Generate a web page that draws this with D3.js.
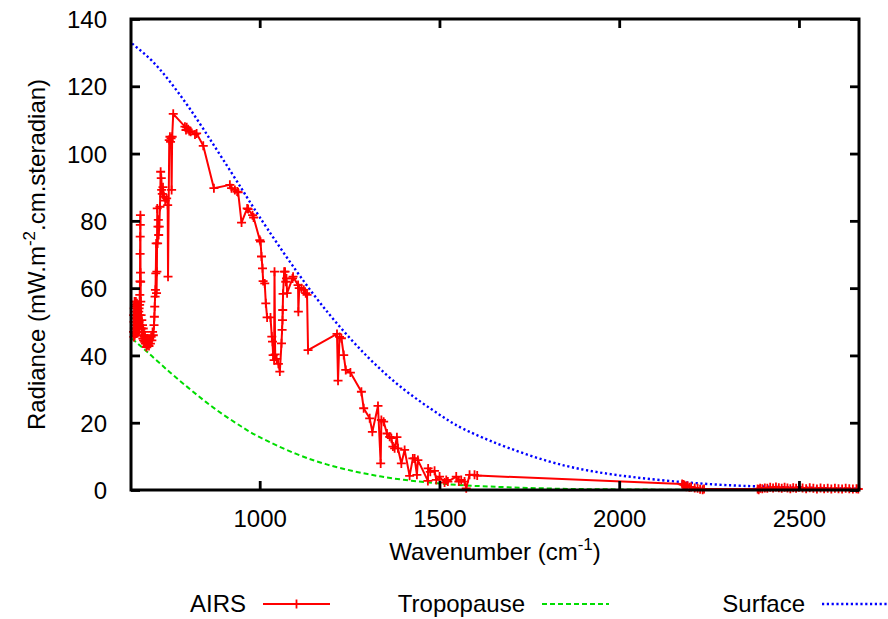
<!DOCTYPE html>
<html>
<head>
<meta charset="utf-8">
<script src="https://cdn.jsdelivr.net/npm/d3@7"></script>
<style>
  body { margin: 0; background: #fff; }
  svg { display: block; font-family: "Liberation Sans", Arial, sans-serif; }
</style>
</head>
<body>
<svg id="chart" width="888" height="619"></svg>
<script>
// AIRS spectrum: [wavenumber, radiance]
const airs = [
  [649, 47], [649.5, 52], [650, 45.5], [650.5, 50], [651, 54], [651.5, 48], [652, 56], [652.5, 46],
  [653, 51], [653.5, 55], [654, 47], [654.5, 53], [655, 49], [655.5, 56], [656, 46.5], [656.5, 52],
  [657, 54.5], [657.5, 48], [658, 51], [658.5, 55.5], [659, 47], [659.5, 50], [660, 53], [660.5, 48.5],
  [661, 52], [661.5, 55], [662, 49], [662.5, 51], [663, 47], [663.5, 53], [664, 50], [664.5, 54],
  [665, 48], [665.5, 52], [666, 55], [666.5, 58], [667, 62], [667.3, 70.2], [667.6, 75.3], [667.9, 78.8],
  [668.2, 81.7], [668.5, 64.6], [668.8, 61.9], [669.2, 56], [670, 52], [671, 48], [672, 50.5], [673, 46],
  [674, 49], [675, 45], [676, 48], [677, 44.5], [678, 47], [679, 45.5], [680, 44], [681, 46],
  [682, 43.5], [683, 45], [684, 44], [685, 42.5], [686, 44.5], [687, 43], [688, 45], [689, 43.5],
  [690, 44], [692, 42.8], [694, 44.5], [696, 43.5], [698, 45.5], [700, 44.5], [702, 47], [704, 46],
  [706, 49], [707, 51.5], [708, 54.5], [709, 57.5], [710, 59.5], [711, 64.4], [712, 73.3], [713, 58.5],
  [714, 64.9], [715, 83.7], [716, 73.3], [717, 78.3], [718, 80.3], [719, 75.8], [720.6, 78.3], [722.6, 84.2],
  [724.5, 94.6], [726.2, 92.7], [727.3, 89.2], [729, 88], [731, 90], [733.7, 87.2], [737, 86], [741.2, 86.7],
  [744, 84.7], [745, 63.4], [748.4, 104], [750.3, 105], [752, 103.5], [753.5, 104.5], [755, 89.2], [756.5, 105],
  [759.5, 111.8], [792, 108], [795, 107], [797, 107.8], [801, 107.2], [804, 106.7], [808, 106.5], [820, 105.7],
  [824.5, 106], [843, 102.3], [872.6, 89.7], [917, 90.7], [921.7, 89.7], [930.9, 89.2], [937.3, 88.7], [940, 88.5],
  [949.5, 79.5], [965.1, 83.7], [967.8, 83.5], [980.1, 81.7], [983, 81], [1000.3, 74.3], [1002.3, 73.8], [1005, 69.4],
  [1007.8, 65.9], [1009.5, 62.1], [1014, 61.4], [1017, 55.5], [1020.6, 51.3], [1030, 51.3], [1033.7, 45.6], [1035.6, 44.1],
  [1037.3, 40.1], [1040, 38.6], [1041.2, 64.9], [1043, 40.3], [1047, 39], [1052, 37.5], [1056, 35.2], [1060.6, 43.6],
  [1062.3, 47.6], [1063.4, 50.5], [1064, 53.5], [1065, 58.3], [1068, 64.9], [1070.6, 64.9], [1072.5, 61.9], [1074.5, 62.9],
  [1076.2, 58.5], [1091.2, 62.9], [1092.8, 63.4], [1106.7, 60.9], [1107.5, 53], [1110, 60], [1116.2, 60], [1122.6, 59.5],
  [1128, 58.5], [1131.7, 58], [1134.5, 41.6],
  [1215, 46.4], [1217.9, 32.5], [1222, 45.5], [1227.3, 45.1], [1233.7, 40.1], [1239.3, 35.7], [1252.3, 34.9], [1282.9, 29.2],
  [1289.2, 24.3], [1305.9, 21.3], [1313.4, 17.3], [1329, 25], [1336.5, 7.9], [1338.4, 20.8], [1344.8, 20.3], [1354, 16.8],
  [1361.5, 15.8], [1366.2, 15.4], [1370.6, 12.9], [1375.3, 12.4], [1381.7, 15.7], [1384.5, 12.4], [1394, 7.9], [1403.1, 11.9],
  [1417, 4.2], [1426, 9.4], [1430.9, 9.4], [1437.3, 4.5], [1440, 8.9], [1467.8, 2.7], [1468.5, 6.4], [1474.5, 5.4],
  [1486.4, 5.7], [1491.1, 3], [1500.3, 4], [1514.2, 2.2], [1518.9, 3], [1523.4, 2.5], [1546.7, 4], [1553.9, 2.5],
  [1560.6, 3], [1569.8, 2.5], [1574.5, 0.5], [1583.7, 4.5], [1597.6, 4.5], [1605, 4.3],
  [2175, 1.8], [2178, 1.6], [2181, 1.5], [2184, 1.2], [2187, 1.0], [2190, 1.3], [2195, 0.8], [2200, 0.9],
  [2210, 0.6], [2218, 0.5], [2225, 0.2], [2232, 0.1], [2236, 0.3],
  [2385, 0.3], [2388, 0.1], [2392, 0.5], [2398, 0.4], [2405, 0.6], [2412, 0.5], [2420, 0.8], [2428, 0.6],
  [2436, 0.9], [2444, 0.7], [2452, 0.5], [2460, 0.8], [2468, 0.6], [2476, 0.4], [2484, 0.7], [2492, 0.5],
  [2500, 0.8], [2510, 0.6], [2520, 0.4], [2530, 0.7], [2540, 0.5], [2550, 0.3], [2560, 0.6], [2570, 0.4],
  [2580, 0.5], [2590, 0.3], [2600, 0.5], [2610, 0.4], [2620, 0.3], [2630, 0.5], [2640, 0.4], [2650, 0.3],
  [2660, 0.4], [2665, 0.3]
];

// smooth reference curves
const curveWavenumbers = [645, 700, 750, 800, 850, 900, 950, 1000, 1100, 1200, 1300, 1400, 1500, 1600, 1800, 2000, 2200, 2400, 2667];
const surfaceValues = [132.7, 127.6, 121.4, 114.2, 106.2, 97.9, 89.5, 81.1, 65.4, 51.4, 39.6, 30.0, 22.4, 16.5, 8.64, 4.36, 2.14, 1.02, 0.37];
const tropopauseValues = [45.0, 39.8, 35.0, 30.5, 26.2, 22.3, 18.8, 15.7, 10.8, 7.21, 4.73, 3.04, 1.93, 1.21, 0.46, 0.17, 0.06, 0.02, 0.005];

const xTicks = [1000, 1500, 2000, 2500];
const yTicks = [0, 20, 40, 60, 80, 100, 120, 140];

const legendItems = [
  { name: "AIRS", key: "airs" },
  { name: "Tropopause", key: "tropo" },
  { name: "Surface", key: "surface" }
];

const W = 888, H = 619;
const margin = { top: 19, right: 29, bottom: 129, left: 131 };
const width = W - margin.left - margin.right;
const height = H - margin.top - margin.bottom;
const fontSize = 24;

const svg = d3.select("#chart");
const chart = svg.append("g").attr("transform", `translate(${margin.left},${margin.top})`);

const x = d3.scaleLinear().domain([642, 2667]).range([0, width]);
const y = d3.scaleLinear().domain([0, 140]).range([height, 0]);

// curves
const smooth = d3.line().x(d => x(d[0])).y(d => y(d[1])).curve(d3.curveNatural);
const surface = curveWavenumbers.map((w, i) => [w, surfaceValues[i]]);
const tropo = curveWavenumbers.map((w, i) => [w, tropopauseValues[i]]);

const tropoStyle = s => s.attr("stroke", "#00dd00").attr("stroke-width", 2).attr("stroke-dasharray", "5,3");
const surfaceStyle = s => s.attr("stroke", "#0000ff").attr("stroke-width", 2.4).attr("stroke-dasharray", "2.2,2.6");
const airsStyle = s => s.attr("stroke", "#ff0000").attr("stroke-width", 2);

chart.append("path")
  .datum(tropo)
  .attr("d", smooth)
  .attr("fill", "none")
  .call(tropoStyle);

chart.append("path")
  .datum(surface)
  .attr("d", smooth)
  .attr("fill", "none")
  .call(surfaceStyle);

// AIRS line + markers
const straight = d3.line().x(d => x(d[0])).y(d => y(d[1]));
chart.append("path")
  .datum(airs)
  .attr("d", straight)
  .attr("fill", "none")
  .attr("stroke-linejoin", "round")
  .call(airsStyle);

const plus = "M-4.5,0H4.5M0,-4.5V4.5";
chart.append("g")
  .selectAll("path")
  .data(airs)
  .join("path")
  .attr("transform", d => `translate(${x(d[0])},${y(d[1])})`)
  .attr("d", plus)
  .attr("stroke", "#ff0000")
  .attr("stroke-width", 1.8);

// axes with inward, mirrored ticks
const tick = 9;
const bottomAxis = chart.append("g").attr("transform", `translate(0,${height})`)
  .call(d3.axisBottom(x).tickValues(xTicks).tickFormat(d3.format("d"))
    .tickSizeInner(-tick).tickSizeOuter(0).tickPadding(32));
const topAxis = chart.append("g")
  .call(d3.axisTop(x).tickValues(xTicks).tickSizeInner(-tick).tickSizeOuter(0).tickFormat(""));
const leftAxis = chart.append("g")
  .call(d3.axisLeft(y).tickValues(yTicks).tickFormat(d3.format("d"))
    .tickSizeInner(-tick).tickSizeOuter(0).tickPadding(24));
const rightAxis = chart.append("g").attr("transform", `translate(${width},0)`)
  .call(d3.axisRight(y).tickValues(yTicks).tickSizeInner(-tick).tickSizeOuter(0).tickFormat(""));

[bottomAxis, topAxis, leftAxis, rightAxis].forEach(a => {
  a.select(".domain").remove();
  a.selectAll(".tick line").attr("stroke", "#000").attr("stroke-width", 2.8);
  a.selectAll(".tick text").attr("fill", "#000").style("font-size", fontSize + "px")
    .style("font-family", '"Liberation Sans", Arial, sans-serif');
});
bottomAxis.selectAll(".tick text").attr("dy", "0.2em");
leftAxis.selectAll(".tick text").attr("dy", "0.36em");

chart.append("rect")
  .attr("width", width)
  .attr("height", height)
  .attr("fill", "none")
  .attr("stroke", "#000")
  .attr("stroke-width", 3);

// axis titles
const xTitle = svg.append("text")
  .attr("x", margin.left + width / 2)
  .attr("y", 560)
  .attr("text-anchor", "middle")
  .style("font-size", fontSize + "px");
xTitle.append("tspan").text("Wavenumber (cm");
xTitle.append("tspan").attr("dy", -10).style("font-size", "17px").text("-1");
xTitle.append("tspan").attr("dy", 10).text(")");

const yTitle = svg.append("text")
  .attr("transform", `translate(45,${margin.top + height / 2}) rotate(-90)`)
  .attr("text-anchor", "middle")
  .style("font-size", fontSize + "px");
yTitle.append("tspan").text("Radiance (mW.m");
yTitle.append("tspan").attr("dy", -10).style("font-size", "17px").text("-2");
yTitle.append("tspan").attr("dy", 10).text(".cm.steradian)");

// legend
const legendY = 604;
const legendTextRight = [246, 525, 805];
const legend = svg.append("g");
legendItems.forEach((item, i) => {
  const tx = legendTextRight[i];
  legend.append("text")
    .attr("x", tx)
    .attr("y", legendY)
    .attr("dy", "0.35em")
    .attr("text-anchor", "end")
    .style("font-size", fontSize + "px")
    .text(item.name);
  const x0 = tx + 17, x1 = tx + 84;
  const sample = legend.append("line")
    .attr("x1", x0).attr("x2", x1)
    .attr("y1", legendY).attr("y2", legendY);
  if (item.key === "airs") {
    sample.call(airsStyle);
    legend.append("path")
      .attr("transform", `translate(${(x0 + x1) / 2},${legendY})`)
      .attr("d", plus)
      .attr("stroke", "#ff0000")
      .attr("stroke-width", 1.8);
  } else if (item.key === "tropo") {
    sample.call(tropoStyle);
  } else {
    sample.call(surfaceStyle);
  }
});
</script>
</body>
</html>
